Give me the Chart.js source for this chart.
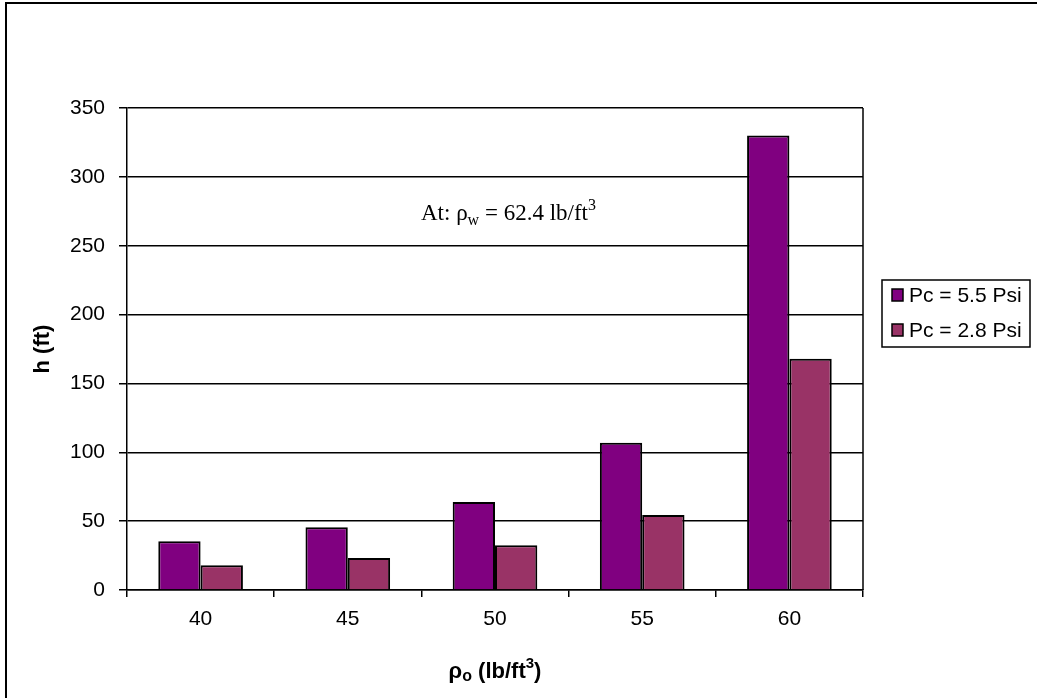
<!DOCTYPE html>
<html><head><meta charset="utf-8">
<script src="https://cdn.jsdelivr.net/npm/chart.js@4.4.1/dist/chart.umd.min.js"></script>
<style>html,body{margin:0;padding:0;background:#fff;}#wrap{width:1037px;height:698px;position:relative;}</style>
</head><body><div id="wrap"><canvas id="c" width="1037" height="698"></canvas></div>
<script>
const categories = ['40', '45', '50', '55', '60'];
const seriesNames = ['Pc = 5.5 Psi', 'Pc = 2.8 Psi'];
const pc55 = [35.4, 45.5, 63.9, 107.0, 330.0];
const pc28 = [18.0, 23.2, 32.5, 54.5, 168.0];
const yTicks = [0, 50, 100, 150, 200, 250, 300, 350];
const colors = ['#800080', '#993366'];

const SANS = '"Liberation Sans", Arial, sans-serif';
const SERIF = '"Liberation Serif", "Times New Roman", serif';

const decor = {
  id: 'decor',
  afterDraw(chart) {
    const ctx = chart.ctx;
    const a = chart.chartArea;
    ctx.save();
    // outer border
    ctx.strokeStyle = '#000'; ctx.lineWidth = 2;
    ctx.strokeRect(6, 3, 1040, 710);
    // plot right border
    ctx.lineWidth = 1.5;
    ctx.beginPath(); ctx.moveTo(a.right, a.top); ctx.lineTo(a.right, a.bottom); ctx.stroke();
    // annotation
    ctx.fillStyle = '#000';
    ctx.textBaseline = 'alphabetic';
    let x = 421, y = 220;
    const put = (t, f, dy) => { ctx.font = f; ctx.fillText(t, x, y + (dy||0)); x += ctx.measureText(t).width; };
    put('At: ρ', '23px ' + SERIF);
    put('w', '16px ' + SERIF, 5);
    put(' = 62.4 lb/ft', '23px ' + SERIF);
    put('3', '16px ' + SERIF, -10);
    // x title
    const parts = [['ρ', 'bold 22px ' + SANS, 0], ['o', 'bold 16px ' + SANS, 3], [' (lb/ft', 'bold 22px ' + SANS, 0], ['3', 'bold 15px ' + SANS, -10], [')', 'bold 22px ' + SANS, 0]];
    let w = 0;
    parts.forEach(p => { ctx.font = p[1]; w += ctx.measureText(p[0]).width; });
    x = (a.left + a.right) / 2 - w / 2; y = 678;
    parts.forEach(p => put(p[0], p[1], p[2]));
    // y title
    ctx.save();
    ctx.translate(43, (a.top + a.bottom) / 2);
    ctx.rotate(-Math.PI / 2);
    ctx.font = 'bold 22px ' + SANS; ctx.textAlign = 'center'; ctx.textBaseline = 'middle';
    ctx.fillText('h (ft)', 0, 0);
    ctx.restore();
    // legend
    ctx.lineWidth = 1.5; ctx.strokeStyle = '#000';
    ctx.strokeRect(882, 280, 148, 67);
    ctx.font = '21px ' + SANS; ctx.textAlign = 'left'; ctx.textBaseline = 'alphabetic';
    seriesNames.forEach((n, i) => {
      const base = 302 + i * 35;
      ctx.fillStyle = colors[i];
      ctx.fillRect(892, base - 13, 11, 12);
      ctx.lineWidth = 1.5; ctx.strokeRect(892, base - 13, 11, 12);
      ctx.fillStyle = '#000';
      ctx.fillText(n, 909, base);
    });
    ctx.restore();
  }
};

new Chart(document.getElementById('c'), {
  type: 'bar',
  data: {
    labels: categories,
    datasets: [
      { label: seriesNames[0], data: pc55, backgroundColor: colors[0], borderColor: '#000', borderWidth: 2, categoryPercentage: 0.575, barPercentage: 1 },
      { label: seriesNames[1], data: pc28, backgroundColor: colors[1], borderColor: '#000', borderWidth: 2, categoryPercentage: 0.575, barPercentage: 1 }
    ]
  },
  options: {
    responsive: false, animation: false,
    layout: { padding: { left: 0, right: 174, top: 108, bottom: 0 } },
    plugins: { legend: { display: false }, tooltip: { enabled: false } },
    scales: {
      x: {
        afterFit: s => { s.height = 108; },
        grid: { drawOnChartArea: false, drawTicks: true, tickLength: 7, color: '#000', lineWidth: 1.5, offset: true },
        border: { color: '#000', width: 1.5 },
        ticks: { color: '#000', font: { family: SANS, size: 21 }, padding: 10 }
      },
      y: {
        min: 0, max: 350,
        afterFit: s => { s.width = 127; },
        afterBuildTicks: s => { s.ticks = yTicks.map(v => ({ value: v })); },
        grid: { color: '#000', lineWidth: 1.5, tickLength: 8, drawTicks: true },
        border: { color: '#000', width: 1.5 },
        ticks: { color: '#000', font: { family: SANS, size: 21 }, padding: 14 }
      }
    }
  },
  plugins: [decor]
});
</script></body></html>
